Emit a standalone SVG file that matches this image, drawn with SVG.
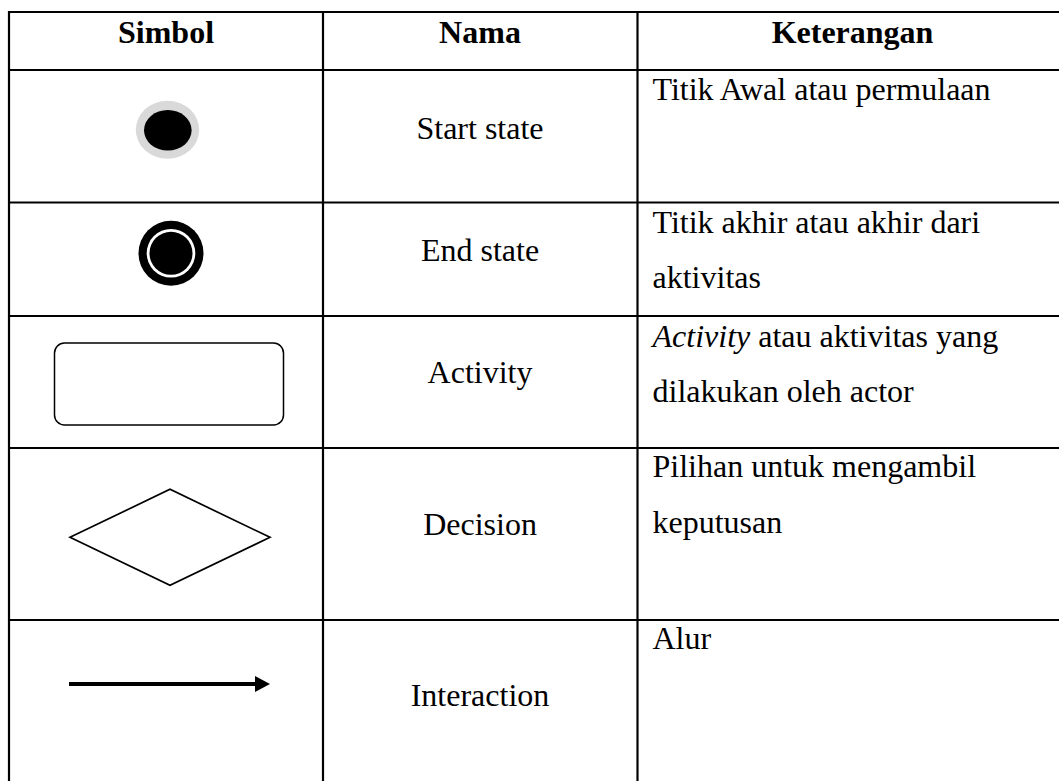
<svg xmlns="http://www.w3.org/2000/svg" width="1059" height="781" viewBox="0 0 1059 781">
<style>
.t{font-family:"Liberation Serif","Times New Roman",serif;font-size:32px;fill:#000}
.h{font-weight:bold;text-anchor:middle}
.c{text-anchor:middle}
.grid line{stroke:#000;stroke-width:2.2}
.sym{fill:none;stroke:#000}
</style>
<rect width="1059" height="781" fill="#fff"/>
<g id="grid" class="grid">
<line x1="8" y1="12" x2="1059" y2="12"/>
<line x1="8" y1="70" x2="1059" y2="70"/>
<line x1="8" y1="202.5" x2="1059" y2="202.5"/>
<line x1="8" y1="316" x2="1059" y2="316"/>
<line x1="8" y1="448" x2="1059" y2="448"/>
<line x1="8" y1="620" x2="1059" y2="620"/>
<line x1="9" y1="11" x2="9" y2="781"/>
<line x1="323" y1="11" x2="323" y2="781"/>
<line x1="637.5" y1="11" x2="637.5" y2="781"/>
</g>
<g id="header">
<text class="t h" x="166" y="43">Simbol</text>
<text class="t h" x="480" y="43">Nama</text>
<text class="t h" x="852.5" y="43">Keterangan</text>
</g>
<g id="start-state">
<ellipse cx="167.5" cy="129.8" rx="31.7" ry="29" fill="#d9d9d9"/>
<ellipse cx="167.8" cy="130.3" rx="23.8" ry="20.3" fill="#000"/>
<text class="t c" x="480" y="138.5">Start state</text>
<text class="t" x="652.5" y="100">Titik Awal atau permulaan</text>
</g>
<g id="end-state">
<circle cx="171" cy="253.3" r="32.5" fill="#000"/>
<circle cx="171" cy="253.3" r="24.3" fill="#fff"/>
<circle cx="171" cy="253.3" r="21.5" fill="#000"/>
<text class="t c" x="480" y="260.7">End state</text>
<text class="t" x="652.5" y="233">Titik akhir atau akhir dari</text>
<text class="t" x="652.5" y="288.3">aktivitas</text>
</g>
<g id="activity">
<rect class="sym" x="54.5" y="343" width="229" height="82" rx="10" stroke-width="1.5"/>
<text class="t c" x="480" y="383.3">Activity</text>
<text class="t" x="652.5" y="346.7"><tspan font-style="italic">Activity</tspan> atau aktivitas yang</text>
<text class="t" x="652.5" y="401.7">dilakukan oleh actor</text>
</g>
<g id="decision">
<polygon class="sym" points="70,537.3 170,489.3 270,537.3 170,585.3" stroke-width="1.7"/>
<text class="t c" x="480" y="535">Decision</text>
<text class="t" x="652.5" y="477.3">Pilihan untuk mengambil</text>
<text class="t" x="652.5" y="533.3">keputusan</text>
</g>
<g id="interaction">
<line x1="69" y1="684" x2="256" y2="684" stroke="#000" stroke-width="4"/>
<polygon points="255,676 270,684 255,692" fill="#000"/>
<text class="t c" x="480" y="706">Interaction</text>
<text class="t" x="652.5" y="649.3">Alur</text>
</g>
</svg>
